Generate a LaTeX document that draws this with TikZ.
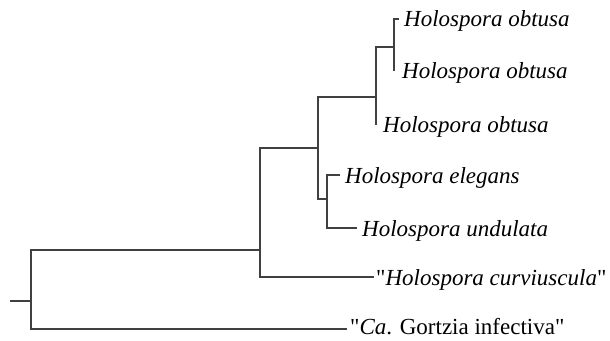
\documentclass[tikz,border=0pt]{standalone}
\usepackage{fontspec}
\setmainfont{Liberation Serif}[Ligatures=TeXOff]
\begin{document}
\begin{tikzpicture}[x=1pt,y=-1pt,
  branch/.style={draw=black!75,line width=1.1pt},
  leaf/.style={anchor=west,inner xsep=5pt,inner ysep=0pt,text height=18pt,text depth=2pt,font=\fontsize{23}{26}\selectfont\itshape}]
\useasboundingbox (0,0) rectangle (610,340);
% internal nodes
\coordinate (r0) at (10,301);
\coordinate (r) at (31,301);
\coordinate (A) at (260,250);
\coordinate (B) at (318,148);
\coordinate (C) at (327,199);
\coordinate (D) at (376,97);
\coordinate (E) at (394,47);
% leaves
\node[leaf] (o1) at (399,19) {Holospora obtusa};
\node[leaf,inner xsep=7pt] (o2) at (395,70) {Holospora obtusa};
\node[leaf,inner xsep=6pt] (o3) at (377,124) {Holospora obtusa};
\node[leaf] (el) at (340,175) {Holospora elegans};
\node[leaf] (un) at (357,228) {Holospora undulata};
\node[leaf,inner xsep=2pt] (cu) at (374,277) {\upshape"\itshape Holospora curviuscula\/\upshape"};
\node[leaf,inner xsep=3pt,text height=15pt,text depth=5pt,font=\fontsize{23}{26}\selectfont] (go) at (347,329) {"\textit{Ca}. Gortzia infectiva"};
% branches
\draw[branch] (r0) -- (r);
\draw[branch] (r) |- (A);
\draw[branch] (r) |- (go.west);
\draw[branch] (A) |- (B);
\draw[branch] (A) |- (cu.west);
\draw[branch] (B) |- (D);
\draw[branch] (B) |- (C);
\draw[branch] (C) |- (el.west);
\draw[branch] (C) |- (un.west);
\draw[branch] (D) |- (E);
\draw[branch] (D) |- (o3.west);
\draw[branch] (E) |- (o1.west);
\draw[branch] (E) |- (o2.west);
\end{tikzpicture}
\end{document}
